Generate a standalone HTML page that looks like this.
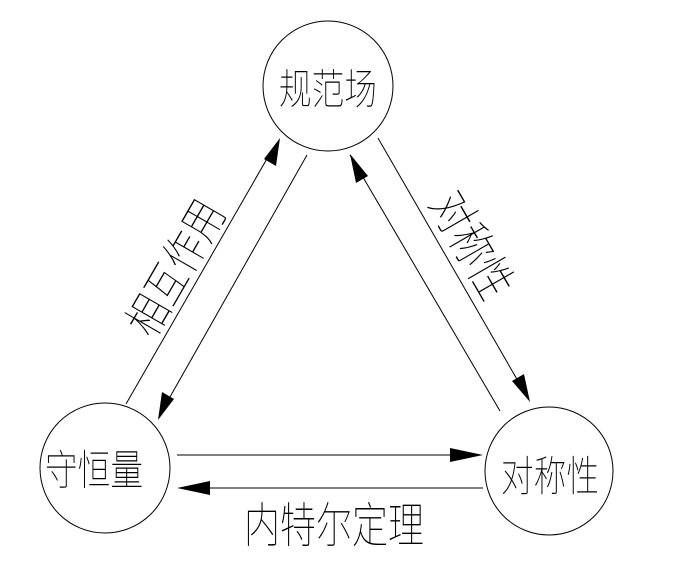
<!DOCTYPE html>
<html><head><meta charset="utf-8"><style>
html,body{margin:0;padding:0;background:#fff;}
svg{display:block;}
text{font-family:"Liberation Sans","Noto Sans CJK SC","WenQuanYi Zen Hei",sans-serif;fill:#000;font-weight:100;}
</style></head><body>
<svg width="673" height="586" viewBox="0 0 673 586" xmlns="http://www.w3.org/2000/svg">
<g fill="none" stroke="#000" stroke-width="1">
<circle cx="328" cy="86" r="65"/>
<circle cx="105" cy="468" r="65"/>
<circle cx="549" cy="471" r="64"/>
<line x1="126" y1="404" x2="272" y2="150"/>
<line x1="307" y1="155" x2="166" y2="404"/>
<line x1="350" y1="155" x2="500" y2="411"/>
<line x1="378" y1="138" x2="522" y2="388"/>
<line x1="177" y1="455" x2="460" y2="455"/>
<line x1="483" y1="488" x2="200" y2="488"/>
</g>
<g fill="#000">
<polygon points="280,138 276,166 264,159"/>
<polygon points="158,420 162,392 174,399"/>
<polygon points="350,154 368,176 356,183"/>
<polygon points="530,402 512,381 524,374"/>
<polygon points="483,455 450,448 450,462"/>
<polygon points="177,488 210,481 210,495"/>
</g>
<g font-size="42">
<text x="328" y="104" text-anchor="middle" transform="translate(328 0) scale(0.78 1) translate(-328 0)">规范场</text>
<text x="94" y="485" text-anchor="middle" transform="translate(94 0) scale(0.78 1) translate(-94 0)">守恒量</text>
<text x="550" y="491" text-anchor="middle" transform="translate(550 0) scale(0.78 1) translate(-550 0)">对称性</text>
</g>
<text font-size="48" x="334" y="542" text-anchor="middle" transform="translate(334 0) scale(0.75 1) translate(-334 0)">内特尔定理</text>
<g transform="translate(176 268) rotate(-60)"><text font-size="46" x="0" y="16" text-anchor="middle" transform="scale(0.8 1)">相互作用</text></g>
<g transform="translate(472 245) rotate(60)"><text font-size="48" x="0" y="17" text-anchor="middle" transform="scale(0.8 1)">对称性</text></g>
</svg>
</body></html>
